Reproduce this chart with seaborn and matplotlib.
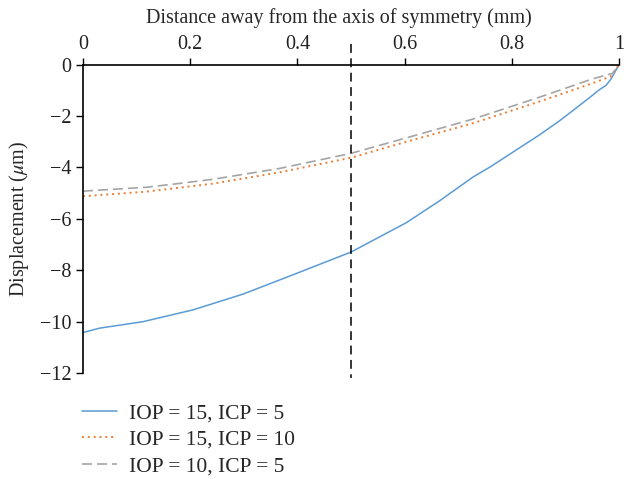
import numpy as np
import pandas as pd
import matplotlib
matplotlib.use("Agg")
import matplotlib.pyplot as plt
import seaborn as sns

# Data
x_a = [0.0, 0.031, 0.1115, 0.205, 0.298, 0.391, 0.5, 0.603, 0.665, 0.727, 0.761,
       0.789, 0.851, 0.888, 0.913, 0.944, 0.963, 0.976, 0.985, 1.0]
y_a = [-10.42, -10.25, -10.0, -9.54, -8.93, -8.18, -7.29, -6.15, -5.30, -4.38, -3.96,
       -3.58, -2.74, -2.20, -1.80, -1.30, -0.98, -0.80, -0.56, 0.0]

x_b = [0.0, 0.118, 0.242, 0.366, 0.5, 0.603, 0.727, 0.851, 0.951, 0.985, 1.0]
y_b = [-5.12, -4.94, -4.63, -4.19, -3.62, -3.00, -2.28, -1.44, -0.72, -0.45, 0.0]

x_c = [0.0, 0.118, 0.18, 0.242, 0.366, 0.5, 0.603, 0.727, 0.851, 0.951, 0.988, 1.0]
y_c = [-4.92, -4.77, -4.62, -4.46, -4.04, -3.45, -2.85, -2.12, -1.27, -0.55, -0.34, 0.0]

labels = ["IOP = 15, ICP = 5", "IOP = 15, ICP = 10", "IOP = 10, ICP = 5"]
colors = ["#5B9BD5", "#ED7D31", "#A5A5A5"]

x_ticks = [0, 0.2, 0.4, 0.6, 0.8, 1]
x_tick_labels = ["0", "0.2", "0.4", "0.6", "0.8", "1"]
y_ticks = [0, -2, -4, -6, -8, -10, -12]
y_tick_labels = ["0", "\u22122", "\u22124", "\u22126", "\u22128", "\u221210", "\u221212"]
vline_x = 0.5

sns.set_theme(style="ticks")
plt.rcParams["font.family"] = ["Liberation Serif", "DejaVu Serif"]
plt.rcParams["mathtext.fontset"] = "stix"

fs = 14.5

fig = plt.figure(figsize=(6.24, 4.79), dpi=100)
ax = fig.add_axes([0.133, 0.221, 0.859, 0.644])

df_a = pd.DataFrame({"x": x_a, "y": y_a})
df_b = pd.DataFrame({"x": x_b, "y": y_b})
df_c = pd.DataFrame({"x": x_c, "y": y_c})

sns.lineplot(data=df_a, x="x", y="y", ax=ax, color=colors[0], lw=1.1,
             label=labels[0], estimator=None, sort=False)
sns.lineplot(data=df_b, x="x", y="y", ax=ax, color=colors[1], lw=1.4,
             label=labels[1], estimator=None, sort=False, linestyle=(0, (1, 2)))
sns.lineplot(data=df_c, x="x", y="y", ax=ax, color=colors[2], lw=1.2,
             label=labels[2], estimator=None, sort=False, linestyle=(0, (6, 3)))

ax.plot([vline_x, vline_x], [0.82, -12.2], color="black", lw=1.1,
        linestyle=(0, (5.8, 3.6)), clip_on=False)

ax.set_xlim(0, 1)
ax.set_ylim(-12, 0)
ax.xaxis.tick_top()
ax.xaxis.set_label_position("top")
ax.set_xticks(x_ticks)
ax.set_xticklabels(x_tick_labels)
ax.set_yticks(y_ticks)
ax.set_yticklabels(y_tick_labels)
ax.set_xlabel("Distance away from the axis of symmetry (mm)", fontsize=fs, labelpad=6)
ax.xaxis.set_label_coords(0.478, 1.135)
ax.set_ylabel("Displacement ($\\mu$m)", fontsize=fs, labelpad=6)
ax.tick_params(axis="both", labelsize=fs, direction="out", length=5, width=1,
               color="black", labelcolor="#222222")
ax.tick_params(axis="x", pad=3)

for s in ["right", "bottom"]:
    ax.spines[s].set_visible(False)
for s in ["top", "left"]:
    ax.spines[s].set_linewidth(1.2)
    ax.spines[s].set_color("black")

ax.legend(loc="upper left", bbox_to_anchor=(0.132, 0.157), bbox_transform=fig.transFigure,
          frameon=False, fontsize=15.5, handlelength=1.6, handletextpad=0.55,
          labelspacing=0.28, borderaxespad=0, borderpad=0)

fig.savefig("out.png", dpi=100)
